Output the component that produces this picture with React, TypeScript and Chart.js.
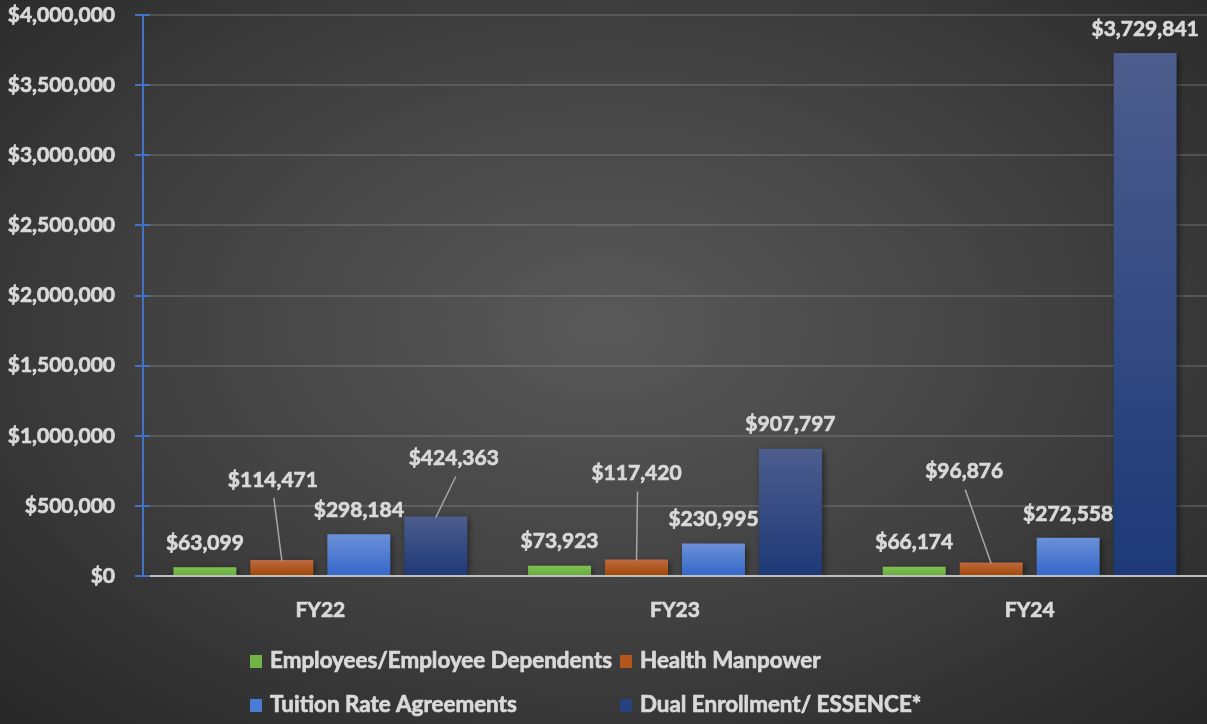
import React, { useEffect, useRef } from "react";
import { Chart, registerables } from "chart.js";

Chart.register(...registerables);

const CATEGORIES = ["FY22", "FY23", "FY24"];
const SERIES_NAMES = [
  "Employees/Employee Dependents",
  "Health Manpower",
  "Tuition Rate Agreements",
  "Dual Enrollment/ ESSENCE*",
];
const EMPLOYEES = [63099, 73923, 66174];
const HEALTH_MANPOWER = [114471, 117420, 96876];
const TUITION = [298184, 230995, 272558];
const DUAL_ENROLLMENT = [424363, 907797, 3729841];
const Y_MIN = 0;
const Y_MAX = 4000000;
const Y_STEP = 500000;

// styling
const GRADIENTS: [string, string][] = [
  ["#7fc452", "#66aa3c"],
  ["#bd6a42", "#a24704"],
  ["#6c90d8", "#3467c9"],
  ["#4d5d8d", "#1d3977"],
];
const LEGEND_COLORS = ["#70b447", "#b4571c", "#4a7bd2", "#26427f"];
// label nudges in px [dx, dy] per series per category (manually moved labels)
const LABEL_NUDGE: [number, number][][] = [
  [[0, 0], [0, 0], [0, 0]],
  [[-9, -56], [0, -62], [-27, -67]],
  [[0, 0], [0, 0], [0, 0]],
  [[18, -34], [0, 0], [0, 0]],
];
const FONT = "Lato";
const TEXT_COLOR = "#d9d9d9";
const STROKE_W = 0.7;

const fmt = (v: number) => "$" + v.toLocaleString("en-US");

const overlayPlugin = {
  id: "overlay",
  beforeDatasetsDraw(chart: any) {
    const ctx = chart.ctx;
    ctx.save();
    ctx.shadowColor = "rgba(0,0,0,0.45)";
    ctx.shadowBlur = 6;
    ctx.shadowOffsetX = 2;
    ctx.shadowOffsetY = 2;
  },
  afterDatasetsDraw(chart: any) {
    const ctx = chart.ctx;
    ctx.restore();
    const { left, right, top, bottom } = chart.chartArea;
    const yScale = chart.scales.y;
    // zero line
    ctx.save();
    ctx.strokeStyle = "#bfbfbf";
    ctx.lineWidth = 2;
    ctx.beginPath();
    ctx.moveTo(left, bottom);
    ctx.lineTo(right, bottom);
    ctx.stroke();
    // y axis line + tick crosses
    ctx.strokeStyle = "#4472c4";
    ctx.lineWidth = 2;
    ctx.beginPath();
    ctx.moveTo(left, top);
    ctx.lineTo(left, bottom);
    for (let v = Y_MIN; v <= Y_MAX; v += Y_STEP) {
      const y = Math.round(yScale.getPixelForValue(v));
      ctx.moveTo(left - 8, y);
      ctx.lineTo(left + 7, y);
    }
    ctx.stroke();

    const drawText = (t: string, x: number, y: number) => {
      ctx.lineWidth = STROKE_W;
      ctx.strokeStyle = TEXT_COLOR;
      ctx.strokeText(t, x, y);
      ctx.fillText(t, x, y);
    };

    // data labels
    ctx.font = `bold 21px ${FONT}`;
    ctx.fillStyle = TEXT_COLOR;
    ctx.textAlign = "center";
    ctx.textBaseline = "middle";
    chart.data.datasets.forEach((ds: any, di: number) => {
      const meta = chart.getDatasetMeta(di);
      meta.data.forEach((bar: any, i: number) => {
        const [dx, dy] = LABEL_NUDGE[di][i];
        const lx = bar.x + dx;
        const ly = bar.y - 24 + dy;
        if (dx !== 0 || dy !== 0) {
          ctx.save();
          ctx.strokeStyle = "#a6a6a6";
          ctx.lineWidth = 1.5;
          ctx.beginPath();
          ctx.moveTo(lx + (dx > 0 ? 2 : 1), ly + 18);
          ctx.lineTo(bar.x, bar.y + 1);
          ctx.stroke();
          ctx.restore();
        }
        drawText(fmt(ds.data[i]), lx, ly);
      });
    });

    // legend
    const cols = [250, 620];
    const rows = [661, 705];
    ctx.textAlign = "left";
    ctx.font = `bold 22.4px ${FONT}`;
    chart.data.datasets.forEach((ds: any, di: number) => {
      const x = cols[di % 2];
      const y = rows[Math.floor(di / 2)];
      ctx.fillStyle = LEGEND_COLORS[di];
      ctx.fillRect(x, y - 6, 12, 13);
      ctx.fillStyle = TEXT_COLOR;
      drawText(ds.label, x + 20, y);
    });
    ctx.restore();
  },
};

function App() {
  const canvasRef = useRef<HTMLCanvasElement | null>(null);

  useEffect(() => {
    if (!canvasRef.current) return;
    const seriesValues = [EMPLOYEES, HEALTH_MANPOWER, TUITION, DUAL_ENROLLMENT];
    const chart = new Chart(canvasRef.current, {
      type: "bar",
      data: {
        labels: CATEGORIES,
        datasets: seriesValues.map((vals, di) => ({
          label: SERIES_NAMES[di],
          data: vals,
          backgroundColor: (c: any) => {
            const ch = c.chart;
            const ys = ch.scales && ch.scales.y;
            if (!ch.chartArea || !ys || c.type !== "data") return GRADIENTS[di][1];
            const v = c.raw as number;
            const yTop = ys.getPixelForValue(v);
            const yBot = ys.getPixelForValue(0);
            const g = ch.ctx.createLinearGradient(0, yTop, 0, yBot);
            g.addColorStop(0, GRADIENTS[di][0]);
            g.addColorStop(1, GRADIENTS[di][1]);
            return g;
          },
          borderWidth: 0,
          categoryPercentage: 0.868,
          barPercentage: 0.818,
        })),
      },
      options: {
        responsive: false,
        animation: false,
        layout: { padding: { top: 15, right: 0, left: 0, bottom: 0 } },
        plugins: {
          legend: { display: false },
          tooltip: { enabled: false },
        },
        scales: {
          x: {
            grid: { display: false, drawTicks: false },
            border: { display: false },
            ticks: {
              color: TEXT_COLOR,
              font: { family: FONT, size: 21, weight: "bold" },
              padding: 22,
              textStrokeColor: TEXT_COLOR,
              textStrokeWidth: STROKE_W,
            },
            afterFit: (s: any) => {
              s.height = 148;
              s.paddingLeft = 0;
              s.paddingRight = 0;
            },
          },
          y: {
            min: Y_MIN,
            max: Y_MAX,
            grid: {
              color: "rgba(150,150,150,0.3)",
              lineWidth: 2,
              drawTicks: false,
            },
            border: { display: false },
            ticks: {
              stepSize: Y_STEP,
              color: TEXT_COLOR,
              font: { family: FONT, size: 21, weight: "bold" },
              padding: 28,
              textStrokeColor: TEXT_COLOR,
              textStrokeWidth: STROKE_W,
              callback: (v: any) => fmt(Number(v)),
            },
            afterFit: (s: any) => {
              s.width = 143;
              s.paddingTop = 0;
              s.paddingBottom = 0;
            },
          },
        },
      },
      plugins: [overlayPlugin],
    });
    return () => chart.destroy();
  }, []);

  return (
    <div
      style={{
        position: "absolute",
        left: 0,
        top: 0,
        width: 1207,
        height: 724,
        background:
          "radial-gradient(ellipse 70% 75% at 50% 45%, #595959 0%, #404040 55%, #282828 100%)",
        overflow: "hidden",
      }}
    >
      <canvas ref={canvasRef} width={1207} height={724} />
    </div>
  );
}

export default App;
